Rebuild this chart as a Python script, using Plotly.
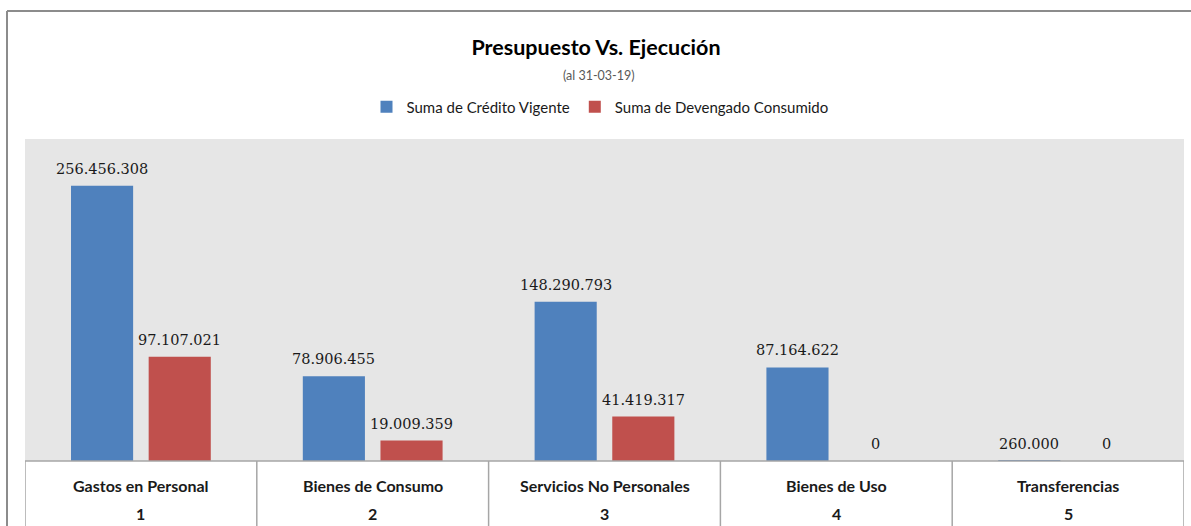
import plotly.graph_objects as go

categories = ["Gastos en Personal", "Bienes de Consumo", "Servicios No Personales", "Bienes de Uso", "Transferencias"]
category_codes = ["1", "2", "3", "4", "5"]
credito_vigente = [256456308, 78906455, 148290793, 87164622, 260000]
devengado_consumido = [97107021, 19009359, 41419317, 0, 0]

W, H = 1191, 526
L, R, T, B = 25, 7, 139, 65
pw, ph = W - L - R, H - T - B

def px_to_paper_x(px):
    return (px - L) / pw

def px_to_paper_y(py):
    return (H - B - py) / ph

label_font = dict(family="DejaVu Serif", size=14.5, color="#1a1a1a")
bar_offset_px = 38.75

fig = go.Figure()
fig.add_trace(go.Bar(
    name="Suma de Crédito Vigente", x=categories, y=credito_vigente,
    marker=dict(color="#4f81bd", line=dict(width=0)), hoverinfo="x+y",
))
fig.add_trace(go.Bar(
    name="Suma de Devengado Consumido", x=categories, y=devengado_consumido,
    marker=dict(color="#c0504d", line=dict(width=0)), hoverinfo="x+y",
))

def fmt(v):
    return f"{v:,.0f}".replace(",", ".")

annotations = []
for series, shift in ((credito_vigente, -bar_offset_px), (devengado_consumido, bar_offset_px)):
    for c, v in zip(categories, series):
        annotations.append(dict(x=c, y=v, xref="x", yref="y", text=fmt(v), showarrow=False,
                                xshift=shift, yshift=7, yanchor="bottom", xanchor="center",
                                font=label_font))

shapes = []
n = len(categories)
for i in range(n + 1):
    shapes.append(dict(type="line", xref="x", yref="paper",
                       x0=i - 0.5, x1=i - 0.5, y0=0, y1=px_to_paper_y(H + 20),
                       line=dict(color="#a6a6a6", width=1.5)))
shapes.append(dict(type="line", xref="paper", yref="paper",
                   x0=0, x1=1, y0=0, y1=0, line=dict(color="#a6a6a6", width=1.5)))
# outer frame
shapes.append(dict(type="line", xref="paper", yref="paper",
                   x0=px_to_paper_x(7), x1=px_to_paper_x(7),
                   y0=px_to_paper_y(11), y1=px_to_paper_y(H + 20),
                   line=dict(color="#8c8c8c", width=2)))
shapes.append(dict(type="line", xref="paper", yref="paper",
                   x0=px_to_paper_x(7), x1=px_to_paper_x(W + 20),
                   y0=px_to_paper_y(11), y1=px_to_paper_y(11),
                   line=dict(color="#8c8c8c", width=2)))

cat_font = dict(family="Lato", size=16, color="#1a1a1a")
for c, code in zip(categories, category_codes):
    annotations.append(dict(x=c, xref="x", yref="paper", y=px_to_paper_y(485),
                            text=f"<b>{c}</b>", showarrow=False, yanchor="middle", font=cat_font))
    annotations.append(dict(x=c, xref="x", yref="paper", y=px_to_paper_y(513),
                            text=f"<b>{code}</b>", showarrow=False, yanchor="middle", font=cat_font))
annotations.append(dict(x=px_to_paper_x(599), xref="paper", yref="paper", y=px_to_paper_y(75),
                        text="(al 31-03-19)", showarrow=False, yanchor="middle",
                        font=dict(family="Lato", size=12.5, color="#595959")))

fig.update_layout(
    width=W, height=H,
    margin=dict(l=L, r=R, t=T, b=B, pad=0),
    paper_bgcolor="white", plot_bgcolor="#e6e6e6",
    separators=",.",
    title=dict(text="<b>Presupuesto Vs. Ejecución</b>", x=596 / W, xanchor="center",
               y=1 - 47 / H, yanchor="middle",
               font=dict(family="Lato", size=21.5, color="#000000")),
    legend=dict(orientation="h", x=px_to_paper_x(600), xanchor="center", y=px_to_paper_y(107),
                yanchor="middle",
                font=dict(family="Lato", size=15, color="#1a1a1a"), bgcolor="rgba(0,0,0,0)",
                itemwidth=30, traceorder="normal"),
    barmode="group", bargap=0.33, bargroupgap=0.2,
    xaxis=dict(showticklabels=False, showgrid=False, zeroline=False, showline=False,
               range=[-0.5, n - 0.5], fixedrange=True),
    yaxis=dict(range=[0, 300000000], showticklabels=False, showgrid=False, zeroline=False,
               showline=False, fixedrange=True),
    shapes=shapes, annotations=annotations, showlegend=True,
)

fig.write_html("out.html", config={"displayModeBar": False},
               post_script="document.body.style.margin='0px';document.body.style.overflow='hidden';")
